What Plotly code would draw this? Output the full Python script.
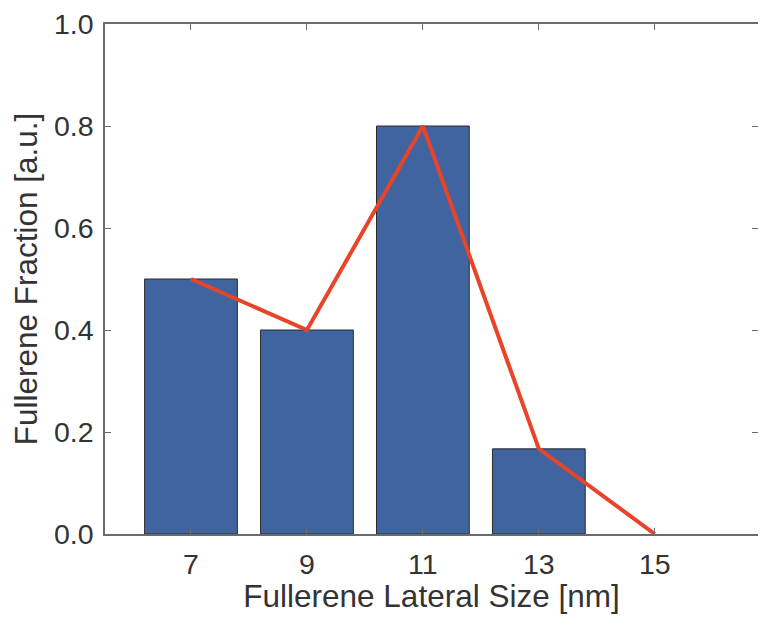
import plotly.graph_objects as go

sizes = [7, 9, 11, 13]
fractions = [0.5, 0.4, 0.8, 0.167]
line_x = [7, 9, 11, 13, 15]
line_y = [0.5, 0.4, 0.8, 0.167, 0.0]
x_ticks = [7, 9, 11, 13, 15]
y_ticks = [0.0, 0.2, 0.4, 0.6, 0.8, 1.0]

FONT = "Liberation Sans, Arial, sans-serif"
TXT = "#333333"
AX = "#6b6b6b"

fig = go.Figure()
fig.add_trace(go.Bar(
    x=sizes, y=fractions, width=1.6,
    marker=dict(color="#3F64A0", line=dict(color="#2b2b2b", width=1)),
    showlegend=False,
))
fig.add_trace(go.Scatter(
    x=line_x, y=line_y, mode="lines",
    line=dict(color="#E8442A", width=4),
    showlegend=False,
))

axis_common = dict(
    showline=True, linecolor=AX, linewidth=1.5, mirror="ticks",
    ticks="inside", ticklen=6, tickcolor=AX, tickwidth=1.2,
    showgrid=False, zeroline=False, ticklabeloverflow="allow",
    automargin=False,
    tickfont=dict(family=FONT, size=28.5, color=TXT),
)

fig.update_layout(
    width=750, height=606,
    margin=dict(l=97, r=0, t=16, b=80),
    paper_bgcolor="white", plot_bgcolor="white",
    xaxis=dict(
        range=[5.517, 16.78], tickvals=x_ticks, ticktext=[str(v) for v in x_ticks],
        title=dict(text="Fullerene Lateral Size [nm]", standoff=19,
                   font=dict(family=FONT, size=31.5, color=TXT)),
        ticklabelstandoff=4,
        **axis_common,
    ),
    yaxis=dict(
        range=[0, 1.0], tickvals=y_ticks, tickformat=".1f",
        title=dict(text="Fullerene Fraction [a.u.]", standoff=8,
                   font=dict(family=FONT, size=31.5, color=TXT)),
        ticklabelstandoff=4,
        **axis_common,
    ),
)

fig.write_html("out.html")
